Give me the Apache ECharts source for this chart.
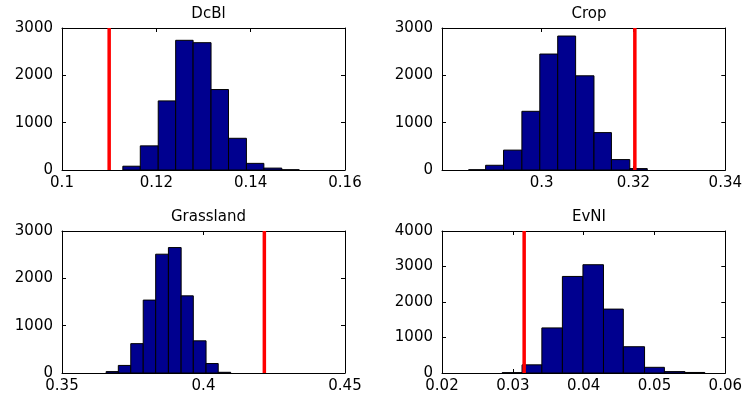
<!DOCTYPE html>
<html>
<head>
<meta charset="utf-8">
<script src="https://cdn.jsdelivr.net/npm/echarts@6/dist/echarts.min.js"></script>
<style>
  html, body { margin: 0; padding: 0; background: #fff; }
  #main { width: 745px; height: 395px; }
</style>
</head>
<body>
<div id="main"></div>
<script>
// panel titles
const titles = ['DcBl', 'Crop', 'Grassland', 'EvNI']

// histogram bin edges + counts
const dcblEdges = [0.1129, 0.1166, 0.1204, 0.1241, 0.1278, 0.1316, 0.1353, 0.1391, 0.1428, 0.1466, 0.1503]
const dcblCounts = [80, 510, 1460, 2740, 2690, 1700, 670, 140, 40, 5]
const cropEdges = [0.2841, 0.2878, 0.2917, 0.2957, 0.2996, 0.3035, 0.3074, 0.3114, 0.3152, 0.3192, 0.3230]
const cropCounts = [5, 100, 420, 1240, 2450, 2830, 1990, 790, 220, 30]
const grassEdges = [0.3656, 0.3699, 0.3743, 0.3787, 0.3831, 0.3876, 0.3921, 0.3964, 0.4009, 0.4052, 0.4096]
const grassCounts = [30, 160, 620, 1540, 2510, 2650, 1630, 680, 200, 15]
const evniEdges = [0.0285, 0.0313, 0.0341, 0.0370, 0.0399, 0.0428, 0.0456, 0.0486, 0.0514, 0.0543, 0.0571]
const evniCounts = [10, 230, 1270, 2720, 3050, 1800, 740, 160, 40, 15]

// observed value (red line) per panel
const observed = [0.110, 0.3203, 0.4215, 0.0316]

// axis ranges and tick labels
const xRanges = [[0.1, 0.16], [0.2783, 0.34], [0.35, 0.45], [0.02, 0.06]]
const xTicks = [
  [0.1, 0.12, 0.14, 0.16],
  [0.3, 0.32, 0.34],
  [0.35, 0.4, 0.45],
  [0.02, 0.03, 0.04, 0.05, 0.06]
]
const yMax = [3000, 3000, 3000, 4000]

const edges = [dcblEdges, cropEdges, grassEdges, evniEdges]
const counts = [dcblCounts, cropCounts, grassCounts, evniCounts]

const grids = [
  { left: 62, top: 28, width: 283, height: 142 },
  { left: 442, top: 28, width: 284, height: 142 },
  { left: 62, top: 231, width: 283, height: 142 },
  { left: 442, top: 231, width: 284, height: 142 }
]

const font = 'DejaVu Sans'
const lbl = { color: '#000', fontSize: 15, fontFamily: font }
const boxLine = { show: true, onZero: false, lineStyle: { color: '#000', width: 1 } }

let xAxis = []
let yAxis = []
let series = []
let title = []

grids.forEach((g, i) => {
  title.push({
    text: titles[i],
    left: g.left + g.width / 2,
    top: g.top - 26,
    textAlign: 'center',
    textStyle: { color: '#000', fontSize: 15, fontWeight: 'normal', fontFamily: font }
  })
  // bottom + top x axes
  xAxis.push({
    type: 'value', gridIndex: i, min: xRanges[i][0], max: xRanges[i][1],
    axisLine: boxLine,
    axisTick: { inside: true, length: 4, lineStyle: { color: '#000' }, customValues: xTicks[i] },
    axisLabel: Object.assign({ margin: 6, customValues: xTicks[i], formatter: v => String(v) }, lbl),
    splitLine: { show: false }
  })
  xAxis.push({
    type: 'value', gridIndex: i, position: 'top', min: xRanges[i][0], max: xRanges[i][1],
    axisLine: boxLine,
    axisTick: { inside: true, length: 4, lineStyle: { color: '#000' }, customValues: xTicks[i] },
    axisLabel: { show: false },
    splitLine: { show: false }
  })
  // left + right y axes
  yAxis.push({
    type: 'value', gridIndex: i, min: 0, max: yMax[i], interval: 1000,
    axisLine: boxLine,
    axisTick: { show: true, inside: true, length: 4, lineStyle: { color: '#000' } },
    axisLabel: Object.assign({ margin: 9, formatter: v => String(v) }, lbl),
    splitLine: { show: false }
  })
  yAxis.push({
    type: 'value', gridIndex: i, position: 'right', min: 0, max: yMax[i], interval: 1000,
    axisLine: boxLine,
    axisTick: { show: true, inside: true, length: 4, lineStyle: { color: '#000' } },
    axisLabel: { show: false },
    splitLine: { show: false }
  })

  let e = edges[i]
  series.push({
    type: 'custom',
    xAxisIndex: i * 2,
    yAxisIndex: i * 2,
    encode: { x: [0, 1], y: 2 },
    data: counts[i].map((c, k) => [e[k], e[k + 1], c]),
    renderItem: (params, api) => {
      let p0 = api.coord([api.value(0), api.value(2)])
      let p1 = api.coord([api.value(1), 0])
      return {
        type: 'rect',
        shape: { x: p0[0], y: p0[1], width: p1[0] - p0[0], height: p1[1] - p0[1] },
        style: { fill: '#00008f', stroke: '#000', lineWidth: 1 }
      }
    }
  })
  // red line at observed value
  series.push({
    type: 'line',
    xAxisIndex: i * 2,
    yAxisIndex: i * 2,
    data: [[observed[i], 0], [observed[i], yMax[i]]],
    symbol: 'none',
    lineStyle: { color: '#ff0000', width: 3.5 },
    z: 5
  })
})

let myChart = echarts.init(document.getElementById('main'))
myChart.setOption({
  animation: false,
  backgroundColor: '#fff',
  title: title,
  grid: grids,
  xAxis: xAxis,
  yAxis: yAxis,
  series: series
})
</script>
</body>
</html>
